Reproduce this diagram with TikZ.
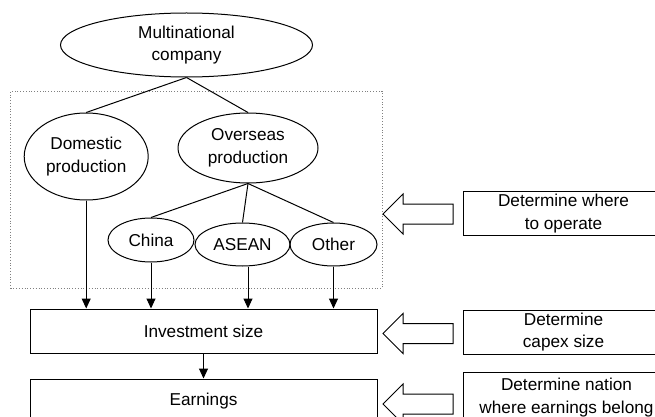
\documentclass[tikz,border=0pt]{standalone}
\usepackage{fontspec}
\setmainfont{Liberation Sans}
\usetikzlibrary{shapes.geometric,arrows.meta}
\newcommand\blkarrow[1]{\draw[blk] (383,#1) -- (403,#1-20) -- (403,#1-10) -- (453,#1-10) -- (453,#1+10) -- (403,#1+10) -- (403,#1+20) -- cycle;}
\begin{document}
\begin{tikzpicture}[x=1pt,y=-1pt,
  every node/.style={font=\fontsize{17.2}{22.5}\selectfont},
  ell/.style={draw, ellipse, line width=1pt, inner sep=0pt, align=center},
  box/.style={draw, rectangle, line width=1pt, inner sep=0pt, align=center},
  conn/.style={line width=1pt},
  arr/.style={line width=1pt, -{Triangle[length=10pt,width=9pt]}},
  blk/.style={draw, line width=1pt, fill=white}]
\useasboundingbox (0,0) rectangle (655,417);
\clip (0,0) rectangle (655,417);
% region
\node[draw, dotted, gray, line width=0.8pt, minimum width=371.5pt, minimum height=197pt, inner sep=0pt] (region) at (196.25,189.5) {};
% ellipses
\node[ell, minimum width=252pt, minimum height=64pt] (mnc) at (186.5,45) {Multinational\\company};
\node[ell, minimum width=124pt, minimum height=87pt] (dom) at (86.2,156.5) {Domestic\\production};
\node[ell, minimum width=140pt, minimum height=70pt] (ovs) at (248,148) {Overseas\\production};
\node[ell, minimum width=86pt, minimum height=44pt] (chn) at (151,240) {China};
\node[ell, minimum width=95pt, minimum height=43pt] (asn) at (242.5,244.5) {ASEAN};
\node[ell, minimum width=87pt, minimum height=43pt] (oth) at (333.5,244.5) {Other};
% boxes
\node[box, minimum width=347pt, minimum height=44pt] (inv) at (203.5,331) {Investment size};
\node[box, minimum width=347pt, minimum height=44pt] (earn) at (203.5,401) {Earnings};
\node[box, minimum width=200pt, minimum height=44pt, anchor=north west] (r1) at (463,191) {Determine where\\to operate};
\node[box, minimum width=200pt, minimum height=44pt, anchor=north west] (r2) at (463,309.5) {Determine\\capex size};
\node[box, minimum width=206pt, minimum height=50pt, anchor=north west] (r3) at (463,372) {Determine nation\\where earnings belong};
% tree lines
\draw[conn] (mnc.south) -- (dom.north);
\draw[conn] (mnc.south) -- (ovs.north);
\draw[conn] (ovs.south) -- (chn.north);
\draw[conn] (ovs.south) -- (asn.north);
\draw[conn] (ovs.south) -- (oth.north);
% arrows
\draw[arr] (dom.south) -- (dom.south |- inv.north);
\draw[arr] (chn.south) -- (chn.south |- inv.north);
\draw[arr] ([xshift=5.5pt]asn.south) -- ([xshift=5.5pt]asn.south |- inv.north);
\draw[arr] (oth.south) -- (oth.south |- inv.north);
\draw[arr] (inv.south) -- (earn.north);
% block arrows
\blkarrow{214}
\blkarrow{333.5}
\blkarrow{404}
\end{tikzpicture}
\end{document}
